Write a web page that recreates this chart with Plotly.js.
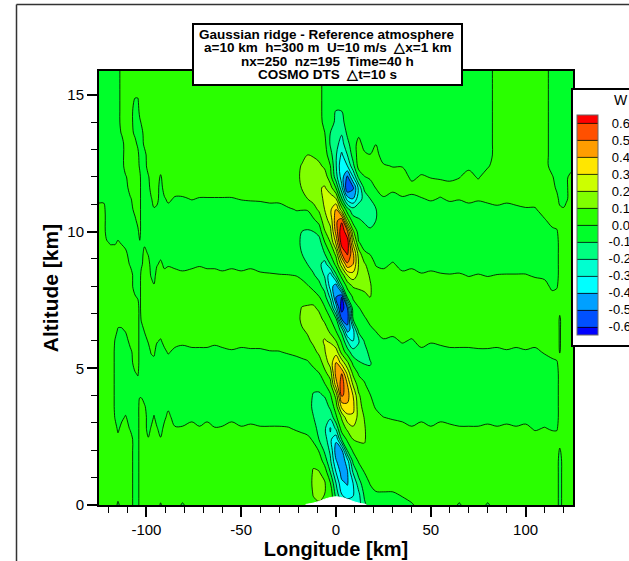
<!DOCTYPE html>
<html><head><meta charset="utf-8">
<script src="https://cdn.plot.ly/plotly-3.0.1.min.js"></script>
<style>html,body{margin:0;padding:0;background:#fff;overflow:hidden}</style>
</head><body><div id="chart" style="width:629px;height:561px"></div>
<script>
const altitude=[0,.4,.8,1.2,1.6,2,2.4,2.8,3.2,3.6,4,4.4,4.8,5.2,5.6,6,6.4,6.8,7.2,7.6,8,8.4,8.8,9.2,9.6,10,10.4,10.8,11.2,11.6,12,12.4,12.8,13.2,13.6,14,14.4,14.8,15.2,15.6,15.9];
const longitude=[-125,-122.5,-120.9,-119,-117.5,-116.5,-115,-113,-111,-108.5,-106,-104.5,-103.5,-102.7,-101,-99,-97.5,-96,-94.5,-92.5,-90.5,-88.5,-85,-81,-76,-72,-68,-64,-60,-55,-50,-45,-40,-35,-30,-25,-21,-18,-15,-12,-9,-6,-3,0,3,6,9,12,15,18,21,25,30,35,40,45,50,55,60,65,70,75,80,85,90,95,100,105,110,114,116.5,118,120,121.5,125];
// vertical velocity W in hundredths of m/s, one list per longitude, bottom to top
const wHundredths=[
[4,4,4,4,4,4,4,4,4,4, 4,4,4,4,4,4,4,4,4,4, 4,4,4,4,4,4,4,3,-2,-4, -4,-4,-4,-4,-4,-4,-4,-4,-4,-4,-4],
[4,4,4,4,4,4,4,4,4,4, 4,4,4,4,4,4,4,4,4,4, 4,4,4,4,4,4,4,3,-2,-4, -4,-4,-4,-4,-4,-4,-4,-4,-4,-4,-4],
[4,4,4,4,4,4,4,4,4,4, 4,4,4,4,4,4,4,4,4,4, 4,4,4,4,1,-4,-4,-4,-4,-4, -4,-4,-4,-4,-4,-4,-4,-4,-4,-4,-4],
[4,4,4,4,4,4,4,4,4,4, 4,4,4,4,4,4,4,4,4,4, 4,4,4,4,-1,-4,-4,-4,-4,-4, -4,-4,-4,-4,-4,-4,-4,-4,-4,-4,-4],
[4,4,4,4,4,4,4,4,4,4, 4,4,4,4,4,4,4,4,4,4, 4,4,4,4,-1,-4,-4,-4,-4,-4, -4,-4,-4,-4,-4,-4,-4,-4,-4,-4,-4],
[4,4,4,4,4,4,4,4,-1,-4, -4,-4,-4,-4,-4,-1,4,4,4,4, 4,4,4,4,-1,-4,-4,-4,-4,-4, -4,-4,-4,-4,-4,-4,-4,-4,-4,-4,-4],
[-2,4,4,4,4,4,3,-2,-4,-4, -4,-4,-4,-4,-4,-4,-1,4,4,4, 4,4,4,4,1,-4,-4,-4,-4,-4, -4,-4,-4,-4,-4,-4,-4,-4,-4,-4,-4],
[4,4,4,4,4,4,4,3,-2,-4, -4,-4,-4,-4,-4,-4,-1,4,4,4, 4,4,4,4,-1,-4,-4,-4,-4,-4, -4,-4,-4,-4,1,4,4,4,4,4,4],
[4,4,4,4,4,4,4,4,1,-4, -4,-4,-4,-4,-4,-4,1,4,4,4, 4,4,4,2,-3,-4,-4,-4,-4,-4, -1,4,4,4,4,4,4,4,4,4,4],
[4,4,4,4,4,4,4,-1,-4,-4, -4,-4,-4,-4,-2,3,4,4,4,4, 4,4,-1,-4,-4,-4,-4,-4,-1,4, 4,4,4,4,4,4,4,4,4,4,4],
[-4,-4,-4,-4,-4,-4,-4,-4,-4,-4, -4,-4,-1,4,4,4,4,4,4,1, -4,-4,-4,-4,-4,-4,-2,3,4,4, 4,4,4,3,-2,-4,-4,-1,4,4,4],
[-4,-4,-4,-4,-4,-4,-4,-4,-4,-4, -4,-4,1,4,4,4,4,4,4,-1, -4,-4,-4,-4,-4,-2,3,4,4,4, 4,4,3,-2,-4,-4,-4,-1,4,4,4],
[4,4,4,4,4,4,4,4,4,4, -1,-4,-4,-4,-4,-4,-4,-4,-4,-4, -4,-4,-4,-4,-1,4,4,4,4,4, 3,-2,-4,-4,-4,-2,3,4,4,4,4],
[4,4,4,4,4,4,4,4,4,4, -1,-4,-4,-4,-4,-4,-4,1,4,4, 4,3,-2,-4,-4,-4,-4,-4,-4,-4, -4,-4,-4,-4,-4,1,4,4,4,4,4],
[4,4,4,4,4,4,4,4,4,1, -4,-4,-4,-4,-4,-4,1,4,4,4, 4,4,4,3,-2,-4,-4,-4,-4,-4, -4,-4,-3,2,4,4,4,4,4,4,4],
[4,4,4,4,4,4,1,-4,-4,-4, -4,-4,-4,-4,-4,1,4,4,4,4, 4,4,4,-1,-4,-4,-4,-4,-4,-4, -1,4,4,4,4,4,4,4,4,4,4],
[4,4,4,4,4,4,4,1,-4,-4, -4,-4,-4,-4,1,4,4,4,4,4, 4,-1,-4,-4,-4,-4,-4,-4,-1,4, 4,4,4,4,4,4,4,4,4,4,4],
[4,4,4,4,4,4,4,4,1,-4, -4,-4,-4,-3,2,4,4,4,4,4, 1,-4,-4,-4,-4,-4,-4,-1,4,4, 4,4,4,4,4,4,4,4,4,4,4],
[4,4,4,4,4,4,4,1,-4,-4, -4,-4,-4,-4,-4,1,4,4,4,4, 4,4,-1,-4,-4,-4,-4,-2,3,4, 4,4,4,4,4,4,4,4,4,4,4],
[-1,4,4,4,4,4,1,-4,-4,-4, -4,-4,-4,-4,-4,-1,4,4,4,4, 4,4,2,-3,-4,-4,-4,-4,-4,-4, -1,4,4,4,4,4,4,4,4,4,4],
[4,4,4,4,4,4,4,3,-2,-4, -4,-4,-4,-4,-2,3,4,4,4,4, 4,3,-2,-4,-4,-4,-4,-4,-1,4, 4,4,4,4,4,4,4,4,4,4,4],
[4,4,4,4,4,4,4,4,3,-2, -4,-4,-4,-4,1,4,4,4,4,4, 4,4,-1,-4,-4,-4,-4,-3,2,4, 4,4,4,4,4,4,4,4,4,4,4],
[4,4,4,4,4,4,4,1,-4,-4, -4,-4,-4,-4,-2,3,4,4,4,4, 4,3,-2,-4,-4,-4,-4,-4,-1,4, 4,4,4,4,4,4,4,4,4,4,4],
[-1,4,4,4,4,4,4,1,-4,-4, -4,-4,-4,-4,-3,2,4,4,4,4, 4,2,-3,-4,-4,-4,-4,-4,-1,4, 4,4,4,4,4,4,4,4,4,4,4],
[4,4,4,4,4,4,4,3,-2,-4, -4,-4,-4,-4,-2,3,4,4,4,4, 4,3,-2,-4,-4,-4,-4,-4,.5,4, 4,4,4,4,4,4,4,4,4,4,4],
[4,4,4,4,4,4,4,1,-4,-4, -4,-4,-4,-4,-2,3,4,4,4,4, 4,4,-1,-4,-4,-4,-4,-4,-.5,4, 4,4,4,4,4,4,4,4,4,4,4],
[4,4,4,4,4,4,4,3,-2,-4, -4,-4,-4,-4,-2,3,4,4,4,4, 4,3,-2,-4,-4,-4,-4,-4,-.5,4, 4,4,4,4,4,4,4,4,4,4,4],
[4,4,4,4,4,4,4,.5,-4,-4, -4,-4,-4,-4,-3,2,4,4,4,4, 4,3,-2,-4,-4,-4,-4,-4,-.5,4, 4,4,4,4,4,4,4,4,4,4,4],
[4,4,4,4,4,4,4,1,-4,-4, -4,-4,-4,-4,-2,3,4,4,4,4, 4,2,-3,-4,-4,-4,-4,-4,-.5,4, 4,4,4,4,4,4,4,4,4,4,4],
[4,4,4,4,4,4,4,3,-2,-4, -4,-4,-4,-4,-1,4,4,4,4,4, 4,3,-2,-4,-4,-4,-4,-4,-.5,4, 4,4,4,4,4,4,4,4,4,4,4],
[4,4,4,4,4,4,4,1,-4,-4, -4,-4,-4,-4,-2,3,4,4,4,4, 4,2,-3,-4,-4,-4,-4,-4,.5,4, 4,4,4,4,4,4,4,4,4,4,4],
[4,4,4,4,4,4,4,2,-3,-4, -4,-4,-4,-4,-1.5,3.5,4,4,4,4, 4,3,-2,-4,-4,-4,-4,-4,1,4, 4,4,4,4,4,4,4,4,4,4,4],
[4,4,4,4,4,4,4,1,-4,-4, -4,-4,-4,-4,-1.5,3.5,4,4,4,4, 4,1.5,-3.5,-4,-4,-4,-4,-3,1,4, 4,4,4,4,4,4,4,4,4,4,4],
[4,4,4,4,4,4,4,1,-4,-4, -4,-4,-4,-4,-.5,4.5,4,4,4,4, 4,1,-4,-4,-4,-4,-4,-3,2,4, 4,4,4,4,4,4,4,4,4,4,4],
[4,4,4,4,4,4,4,1,-4,-4, -4,-4,-4,-4,-.3,4,4,4,4,4, 4,.5,-4.5,-4,-4,-4,-4,-3,2,4, 4,4,4,4,4,4,4,4,4,4,4],
[4,4,4,4,4,4,4,.5,-4,-4, -4,-4,-4,-4,1,4,4,4,4,4, 4,.2,-4,-4,-4,-4,-4,-1,4,4, 4,4,4,4,4,4,4,4,4,4,4],
[4,4,4,4,4,4,4,-1,-4,-4, -4,-4,-4,-3,2,4,5,6,6,5, 3,-.2,-4,-5,-6,-5,-3,.3,4,6, 7,6,5,4,4,4,4,4,4,4,4],
[4,4,4,4,4,4,3,-2,-4,-4, -4,-4,-4,-2,3,5,9,12,10.5,6, 3,-2,-5,-10,-12,-10,-5,.3,6,10.5, 12,11,6,4,4,4,4,4,4,4,4],
[4,4,4,4,4,4,2,-3,-4,-5, -4,-4,-3,-1,4,8,11.5,14,11,7, 1,-7,-10,-13,-14,-11,-5,.5,10,13, 14,13,10,6,4,4,4,4,4,4,4],
[8,10.5,12,11,8,3,-1,-6,-9.5,-12, -11,-7,-3,2,7,12,14,16,12,5, -3,-9,-13,-16,-15,-10,-2,6,13,15, 16,14,9,5,4,4,4,4,4,4,4],
[9,12,13,10.5,6,-.5,-10,-13,-15,-15, -12,-6,-.7,5,12,17,18,14,8,.8, -7,-13,-17,-19,-15,-6,3,11.5,16,19, 19,12,7,4,4,4,4,4,4,4,4],
[6,10,11,6,-4,-12,-15,-18,-20,-17, -9,-1,7,14,19,21,16,7,1,-6, -14,-21,-25,-10,-.5,9,16,20,22,21, 15,8,5,3,.5,-3,-4,-4,-4,-4,-4],
[3,7,.5,-10,-18,-22,-28,-31,-18,-7, -1.5,6,14,24,28,18,6,.5,-8,-22, -34,-36,-10,.6,10,17,23,28,25,14, 4,.3,-6,-11,-10,-3.5,-4,-4,-4,-4,-4],
[-5,-14,-20,-30,-39,-45,-38,-18,-2,5, 13,35,44,41,25,10,-.8,-8,-35,-50, -47,-12,3,13,32,44,47,41,20,-.5, -16,-19,-19,-17,-15,-13,-10.5,-5,-4,-4,-4],
[-15,-30,-38,-44,-47,-42,-9,5,11,33, 52,56,50,26,6,-2,-14,-50,-66,-60, -12,4,25,50,66,68,58,15,-9,-27, -35,-38,-32,-24,-19,-14,-10,-4,-4,-4,-4],
[-22,-36,-41,-41,-35,-9,2,12,26,38, 44,40,28,12,-5,-20,-45,-56,-50,-9, 3,20,48,62,66,52,14,-6,-35,-60, -52,-30,-20,-13,-8,-4,-4,-4,-4,-4,-4],
[-26,-31,-30,-19,-7.5,1.5,10,18,28,33, 30,19,8,-2.5,-16,-30,-33,-10,-4,1, 11,26,40,42,27,12,-5,-16,-40,-52, -30,-13,-6,-4,-4,-4,-4,-4,-4,-4,-4],
[-24,-22,-14,-6,1,7,11,14,16,14, 11.5,5,-1,-9,-16,-21,-6,-3,-.5,5, 12,17,19,15,.5,-5,-9,-14,-24,-27, -7,4,4,3,-2,-4,-4,-4,-4,-4,-4],
[-12,-8,-4,.2,5,8,11,11,9.5,6, 3.5,1,-3,-11,-15,-9,-4,-1,3,8, 12,14,11.5,1,-3,-7,-11,-15,-17,-7, -.2,3,1.5,-3,-4,-4,-4,-4,-4,-4,-4],
[-5,-3,.5,4,5,5,5,4,4,3, .5,-4,-7,-11,-6,-4,-1.5,2,6,10, 11,9,4,-.5,-3,-9,-12,-13,-10,-3, 1,3,.2,-3,-4,-4,-4,-4,-4,-4,-4],
[-3,-1,3,4,4,4,4,4,3,-1, -4,-5,-5,-5,-4,-3,.5,4,4,5, 5,3,-.5,-4,-5,-7,-10,-10.5,-6,.3, 3,4,3,-.2,-4,-4,-4,-4,-4,-4,-4],
[-4,-1,4,4,4,4,4,4,.2,-4, -4,-4,-4,-4,-4,-1,4,4,4,4, 4,3,-2,-4,-4,-4,-4,-4,-1,4, 4,1,-4,-4,-4,-4,-4,-4,-4,-4,-4],
[-4,-1,4,4,4,4,4,4,-1,-4, -4,-4,-4,-4,-4,-2,3,4,4,4, 4,4,1,-4,-4,-4,-4,-4,-3,2, 4,-.5,-4,-4,-4,-4,-4,-4,-4,-4,-4],
[-3,1,4,4,4,4,4,3,-2,-4, -4,-4,-4,-4,-4,1,4,4,4,4, 4,2,-3,-4,-4,-4,-4,-4,-1,4, 4,-.5,-4,-4,-4,-4,-4,-4,-4,-4,-4],
[-1,4,4,4,4,4,4,1,-4,-4, -4,-4,-4,-4,-4,-1,4,4,4,4, 4,3,-2,-4,-4,-4,-4,-4,-2,3, -2,-4,-4,-4,-4,-4,-4,-4,-4,-4,-4],
[4,4,4,4,4,4,4,3,-2,-4, -4,-4,-4,-4,-2,3,4,4,4,4, 4,1,-4,-4,-4,-4,-4,-4,-.5,4, 1,-4,-4,-4,-4,-4,-4,-4,-4,-4,-4],
[4,4,4,4,4,4,4,1,-4,-4, -4,-4,-4,-4,-4,1,4,4,4,4, 4,2,-3,-4,-4,-4,-4,-4,1,4, -.5,-4,-4,-4,-4,-4,-4,-4,-4,-4,-4],
[4,4,4,4,4,4,4,3,-2,-4, -4,-4,-4,-4,-3,2,4,4,4,4, 4,1,-4,-4,-4,-4,-4,-4,-.5,3, -1,-4,-4,-4,-4,-4,-4,-4,-4,-4,-4],
[4,4,4,4,4,4,4,2,-3,-4, -4,-4,-4,-4,-2,3,4,4,4,4, 4,.5,-4,-4,-4,-4,-4,-3,1,3, -2,-4,-4,-4,-4,-4,-4,-4,-4,-4,-4],
[-1,4,4,4,4,4,4,1,-4,-4, -4,-4,-4,-4,-2,3,4,4,4,4, 4,1,-4,-4,-4,-4,-4,-4,.5,4, -.5,-4,-4,-4,-4,-4,-4,-4,-4,-4,-4],
[4,4,4,4,4,4,4,1,-4,-4, -4,-4,-4,-4,-2,3,4,4,4,4, 4,-.5,-4,-4,-4,-4,-4,-3,2,4, 3,-2,-4,-4,-4,-4,-4,-4,-4,-4,-4],
[4,4,4,4,4,4,4,1,-4,-4, -4,-4,-4,-4,-1.5,3.5,4,4,4,4, 4,.5,-4,-4,-4,-4,-4,-4,1,4, -1,-4,-4,-4,-4,-4,-4,-4,-4,-4,-4],
[-1,4,4,4,4,4,4,2,-3,-4, -4,-4,-4,-4,-1.5,3.5,4,4,4,4, 4,-.5,-4,-4,-4,-4,-4,-3,2,4, 4,-1,-4,-4,-4,-4,-4,-4,-4,-4,-4],
[4,4,4,4,4,4,4,1,-4,-4, -4,-4,-4,-4,-2,3,4,4,4,4, 4,.3,-4,-4,-4,-4,-4,-2,3,4, 4,4,4,4,4,4,4,4,4,4,4],
[4,4,4,4,4,4,4,2,-3,-4, -4,-4,-4,-4,-1,4,4,4,4,4, 4,.5,-4,-4,-4,-4,-4,-3,2,4, 4,4,4,4,4,4,4,4,4,4,4],
[4,4,4,4,4,4,4,1,-4,-4, -4,-4,-4,-4,-2,3,4,4,4,4, 4,.5,-4,-4,-4,-4,-4,-2,3,4, 4,4,4,4,4,4,4,4,4,4,4],
[4,4,4,4,4,4,4,2,-3,-4, -4,-4,-4,-4,-1,4,4,4,4,4, 4,.5,-4,-4,-4,-4,-4,-1,4,4, 4,4,4,4,4,4,4,4,4,4,4],
[4,4,4,4,4,4,4,-1,-4,-4, -4,-4,-4,-4,-2,3,4,4,4,4, 4,-1,-4,-4,-4,-4,-4,-1,4,4, 4,4,4,4,4,4,4,4,4,4,4],
[4,4,4,4,4,4,4,.5,-4,-4, -4,-4,-4,-4,1,4,4,4,4,4, 3,-2,-4,-4,-4,-4,-1,4,4,4, 4,4,4,4,4,4,4,4,4,4,4],
[4,4,4,4,4,4,4,-1,-4,-4, -4,-4,-4,-2,3,4,4,4,4,3, -2,-4,-4,-4,-4,-2,3,4,4,4, 1,-4,-4,-4,-4,-4,-4,-4,-4,-4,-4],
[4,4,4,4,4,4,4,-1,-4,-4, -4,-4,-4,-1,4,4,4,4,4,4, -1,-4,-4,-4,-4,-1,4,4,3,-2, -4,-4,-4,-4,-4,-4,-4,-4,-4,-4,-4],
[-4,-4,-4,-4,-4,-1,4,4,4,4, 4,4,4,4,-.5,-1,-1,-1,2,4, 4,4,4,4,4,4,4,2,-3,-4, -4,-4,-4,-4,-4,-4,-4,-4,-4,-4,-4],
[4,4,4,4,4,4,4,4,4,4, 4,4,4,4,4,4,4,4,4,4, 4,4,4,4,4,4,4,1,-4,-4, -4,-4,-4,-4,-4,-4,-4,-4,-4,-4,-4],
[4,4,4,4,4,4,4,4,4,4, 4,4,4,4,4,4,4,4,4,4, 4,4,4,4,4,4,4,2,-1,-1, -1,-2,-4,-4,-4,-4,-4,-4,-4,-4,-4],
[4,4,4,4,4,4,4,4,4,4, 4,4,4,4,4,4,4,4,4,4, 4,4,4,4,4,4,4,4,4,4, 3,-2,-4,-4,-4,-4,-4,-4,-4,-4,-4]
];
const levelColors=['#0000ff','#0050ff','#00a0ff','#00ffff','#00ffd0','#00ff80','#00ff2a','#2aff00','#80ff00','#ccff00','#ffe600','#ff9d00','#ff5000','#ff0000'];
const legendLevels=[0.6,0.5,0.4,0.3,0.2,0.1,0.0,-0.1,-0.2,-0.3,-0.4,-0.5,-0.6];
const legendLabels=['\u20050.6','\u20050.5','\u20050.4','\u20050.3','\u20050.2','\u20050.1','\u20050.0','-0.1','-0.2','-0.3','-0.4','-0.5','-0.6'];
const xTickVals=[-100,-50,0,50,100];
const xTickText=['-100','-50','0','50','100'];
const yTickVals=[0,5,10,15];
const yTickText=['0','5','10','15'];
const terrainX=[-16,-12,-9,-6,-3,0,3,6,9,12,16];
const terrainH=[0.02,0.07,0.13,0.21,0.27,0.30,0.27,0.21,0.13,0.07,0.02];
const titleLines=['Gaussian ridge - Reference atmosphere','a=10 km  h=300 m  U=10 m/s  \u25B3x=1 km','nx=250  nz=195  Time=40 h','COSMO DTS  \u25B3t=10 s'];

const FONT='"Liberation Sans",Arial,sans-serif';
const z=wHundredths.map(c=>c.map(v=>v/100));
const scale=levelColors.map((c,i)=>[i/(levelColors.length-1),c]);
const py=v=>(505-v)/434, px=v=>(v-99)/474;
const data=[{
  type:'contour',x:longitude,y:altitude,z:z,transpose:true,
  autocontour:false,contours:{start:-0.6,end:0.6,size:0.1,coloring:'fill',showlines:true},
  line:{color:'#000',width:0.8,smoothing:1},
  colorscale:scale,zmin:-0.65,zmax:0.65,hoverinfo:'skip',
  colorbar:{x:px(577),xanchor:'left',y:py(335),yanchor:'bottom',
    lenmode:'pixels',len:220,thicknessmode:'pixels',thickness:21,xpad:0,ypad:0,
    outlinecolor:'#666',outlinewidth:1,borderwidth:0,
    tickmode:'array',tickvals:legendLevels,ticktext:legendLabels,ticks:'outside',ticklen:8,tickcolor:'rgba(0,0,0,0)',
    tickfont:{family:FONT,size:13,color:'#000'}}
},{
  type:'scatter',x:terrainX,y:terrainH,mode:'lines',fill:'tozeroy',fillcolor:'#fff',
  line:{color:'#fff',width:1,shape:'spline'},showlegend:false,hoverinfo:'skip'
}];
const anns=titleLines.map((t,i)=>({xref:'paper',yref:'paper',x:px(327),y:py(34.5+13.3*i),text:t,showarrow:false,
  xanchor:'center',yanchor:'middle',font:{family:FONT,size:13.5,color:'#000',weight:700}}));
anns.push({xref:'paper',yref:'paper',x:px(621),y:py(100),text:'W',showarrow:false,xanchor:'center',yanchor:'middle',font:{family:FONT,size:14,color:'#000'}});
const layout={
  width:629,height:561,margin:{l:99,r:56,t:71,b:56,autoexpand:false},paper_bgcolor:'#fff',plot_bgcolor:'#fff',showlegend:false,
  xaxis:{range:[-125,125],autorange:false,showgrid:false,zeroline:false,showline:true,mirror:true,linecolor:'#000',linewidth:2,
    tickmode:'array',tickvals:xTickVals,ticktext:xTickText,ticks:'outside',ticklen:10,tickwidth:2,tickcolor:'#000',
    minor:{tickmode:'linear',tick0:0,dtick:10,ticks:'outside',ticklen:6,tickwidth:1,tickcolor:'#000',showgrid:false},
    tickfont:{family:FONT,size:15,color:'#000'},
    title:{text:'Longitude [km]',standoff:4,font:{family:FONT,size:20,color:'#000',weight:700}}},
  yaxis:{range:[0,15.87],autorange:false,showgrid:false,zeroline:false,showline:true,mirror:true,linecolor:'#000',linewidth:2,
    tickmode:'array',tickvals:yTickVals,ticktext:yTickText,ticks:'outside',ticklen:10,tickwidth:2,tickcolor:'#000',
    minor:{tickmode:'linear',tick0:0,dtick:1,ticks:'outside',ticklen:6,tickwidth:1,tickcolor:'#000',showgrid:false},
    tickfont:{family:FONT,size:15,color:'#000'},
    title:{text:'Altitude [km]',standoff:3,font:{family:FONT,size:21,color:'#000',weight:700}}},
  shapes:[
    {type:'rect',xref:'paper',yref:'paper',x0:px(193),x1:px(462),y0:py(85),y1:py(24),fillcolor:'#fff',line:{color:'#000',width:2},layer:'above'},
    {type:'rect',xref:'paper',yref:'paper',x0:px(572),x1:px(640),y0:py(346),y1:py(89),fillcolor:'#fff',line:{color:'#000',width:2},layer:'above'},
    {type:'line',xref:'paper',yref:'paper',x0:px(16.5),x1:px(16.5),y0:py(561),y1:py(4.5),line:{color:'#333',width:1.5},layer:'above'},
    {type:'line',xref:'paper',yref:'paper',x0:px(16.5),x1:px(629),y0:py(4.5),y1:py(4.5),line:{color:'#333',width:1.5},layer:'above'}
  ],
  annotations:anns
};
Plotly.newPlot('chart',data,layout,{displayModeBar:false,staticPlot:true});
</script></body></html>
